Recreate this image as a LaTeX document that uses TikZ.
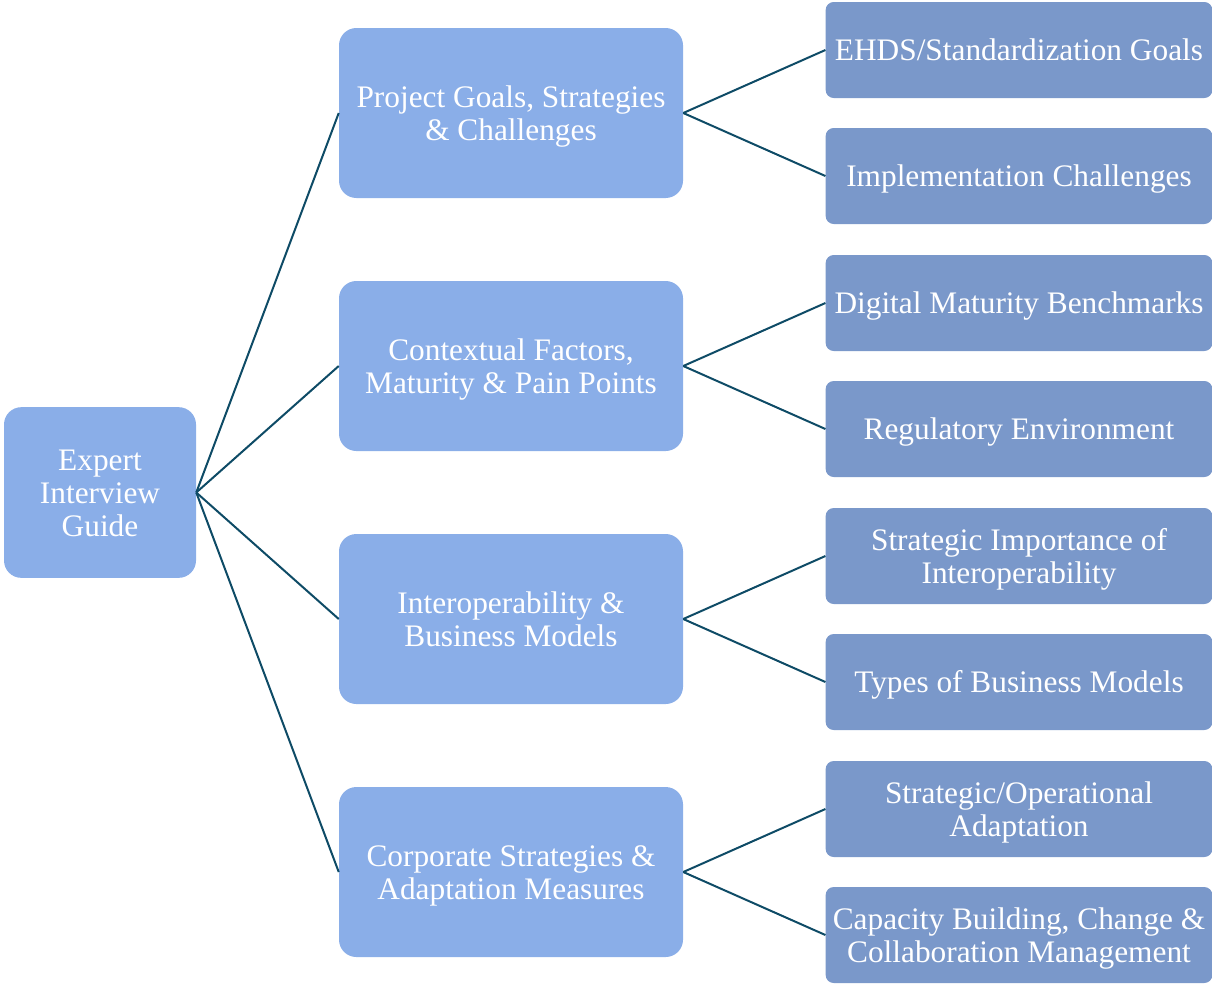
\documentclass[tikz,border=0pt]{standalone}
\usepackage{fontspec}
\setmainfont{Liberation Serif}
\definecolor{boxlight}{HTML}{8AAEE8}
\definecolor{boxdark}{HTML}{7A98CA}
\definecolor{linkcol}{HTML}{0E4B66}
% centred block of lines; the extra height sets it a little lower in its box
\newcommand{\boxtext}[2][6pt]{\raisebox{0pt}[\dimexpr\height+#1\relax][\depth]{\begin{tabular}{@{}c@{}}#2\end{tabular}}}
\begin{document}
\begin{tikzpicture}[x=0.75pt,y=-0.75pt,
  base/.style={text=white,inner sep=0pt,font=\fontsize{23.5}{24.75}\selectfont},
  rootbox/.style={base,fill=boxlight,rounded corners=13pt,minimum width=144pt,minimum height=128pt},
  topicbox/.style={base,fill=boxlight,rounded corners=13pt,minimum width=258pt,minimum height=127.5pt},
  subbox/.style={base,fill=boxdark,rounded corners=6pt,minimum width=290pt,minimum height=72pt},
  link/.style={draw=linkcol,line width=1.5pt}]
\useasboundingbox (0,0) rectangle (1212,983);

\node[rootbox] (root) at (100,492.5) {\boxtext{Expert\\Interview\\Guide}};

\node[topicbox] (t1) at (511,113) {\boxtext{Project Goals, Strategies\\\& Challenges}};
\node[topicbox] (t2) at (511,366) {\boxtext{Contextual Factors,\\Maturity \& Pain Points}};
\node[topicbox] (t3) at (511,619) {\boxtext{Interoperability \&\\Business Models}};
\node[topicbox] (t4) at (511,872) {\boxtext{Corporate Strategies \&\\Adaptation Measures}};

\node[subbox] (s1) at (1019,50) {\boxtext{EHDS/Standardization Goals}};
\node[subbox] (s2) at (1019,176) {\boxtext{Implementation Challenges}};
\node[subbox] (s3) at (1019,303) {\boxtext{Digital Maturity Benchmarks}};
\node[subbox] (s4) at (1019,429) {\boxtext{Regulatory Environment}};
\node[subbox] (s5) at (1019,556) {\boxtext{Strategic Importance of\\Interoperability}};
\node[subbox] (s6) at (1019,682) {\boxtext{Types of Business Models}};
\node[subbox] (s7) at (1019,809) {\boxtext{Strategic/Operational\\Adaptation}};
\node[subbox] (s8) at (1019,935) {\boxtext{Capacity Building, Change \&\\Collaboration Management}};

\foreach \t in {t1,t2,t3,t4}
  \draw[link] (root.east) -- (\t.west);
\draw[link] (t1.east) -- (s1.west);
\draw[link] (t1.east) -- (s2.west);
\draw[link] (t2.east) -- (s3.west);
\draw[link] (t2.east) -- (s4.west);
\draw[link] (t3.east) -- (s5.west);
\draw[link] (t3.east) -- (s6.west);
\draw[link] (t4.east) -- (s7.west);
\draw[link] (t4.east) -- (s8.west);
\end{tikzpicture}
\end{document}
